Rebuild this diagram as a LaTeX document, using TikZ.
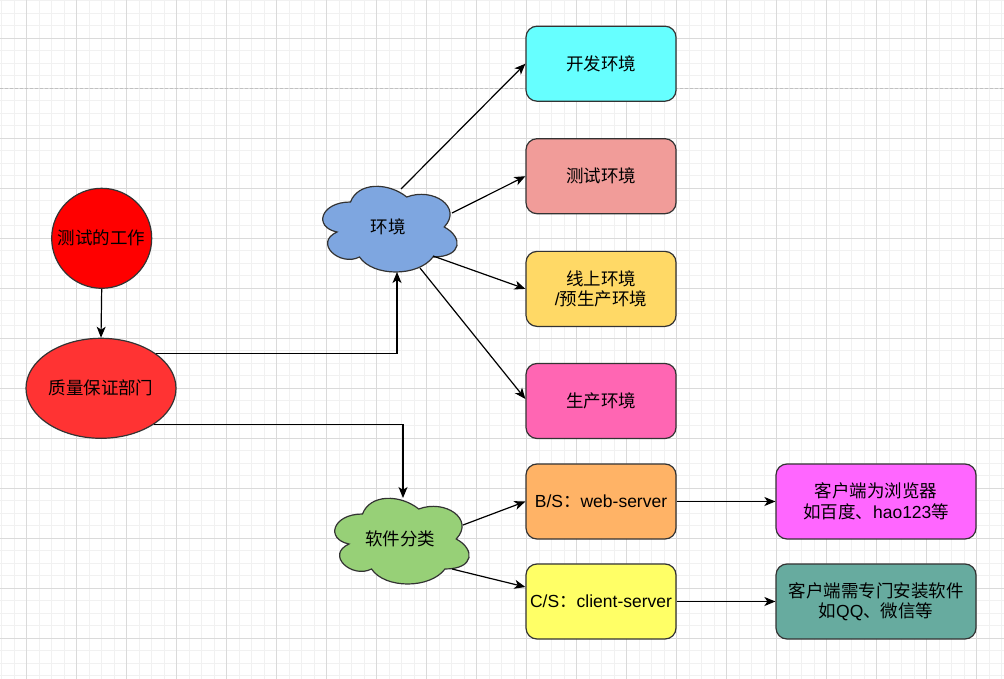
\documentclass[tikz,border=0pt]{standalone}
\usepackage{fontspec}
\setmainfont{Liberation Sans}
\newfontfamily\cjk{Noto Sans CJK SC}
\usetikzlibrary{arrows.meta,shapes.geometric,calc}
\definecolor{strokec}{HTML}{333333}
\definecolor{gridmajor}{HTML}{DADADA}
\definecolor{gridminor}{HTML}{F1F1F1}
\definecolor{pagebreak}{HTML}{C0C0C0}
\definecolor{cdev}{HTML}{66FFFF}
\definecolor{ctest}{HTML}{F19C99}
\definecolor{conline}{HTML}{FFD966}
\definecolor{cprod}{HTML}{FF66B3}
\definecolor{cbs}{HTML}{FFB366}
\definecolor{ccs}{HTML}{FFFF66}
\definecolor{cbrowser}{HTML}{FF66FF}
\definecolor{cinstall}{HTML}{67AB9F}
\definecolor{cwork}{HTML}{FF0000}
\definecolor{cqa}{HTML}{FF3333}
\definecolor{cenv}{HTML}{7EA6E0}
\definecolor{csoft}{HTML}{97D077}
\newcommand{\fsz}{\fontsize{17.5pt}{20.5pt}\selectfont}
% draw.io style cloud, 150 x 100, top-left corner at (#1,#2), fill #3
\newcommand{\drawiocloud}[3]{%
  \begin{scope}[shift={(#1,#2)}]
    \draw[line width=1.2pt, draw=strokec, fill=#3]
      (37.5,25) .. controls (7.5,25) and (0,50) .. (24,55)
      .. controls (0,66) and (27,90) .. (46.5,80)
      .. controls (60,100) and (105,100) .. (120,80)
      .. controls (150,80) and (150,60) .. (131.25,50)
      .. controls (150,30) and (120,10) .. (93.75,20)
      .. controls (75,5) and (45,5) .. (37.5,25) -- cycle;
  \end{scope}}
\tikzset{
  box/.style={draw=strokec, line width=1.2pt, rounded corners=11pt, minimum width=150pt,
    minimum height=75pt, inner sep=0pt, align=center, font=\fsz, fill=#1},
  widebox/.style={box=#1, minimum width=200pt},
  roundnode/.style={draw=strokec, line width=1.2pt, circle, minimum size=100pt, inner sep=0pt,
    font=\fsz, fill=#1},
  ellnode/.style={draw=strokec, line width=1.2pt, ellipse, minimum width=150pt,
    minimum height=100pt, inner sep=0pt, font=\fsz, fill=#1},
  cloudbox/.style={minimum width=150pt, minimum height=100pt, inner sep=0pt, font=\fsz},
  arr/.style={line width=1.2pt, black, -{Stealth[length=11pt, width=9pt, inset=3pt]}},
  minorgrid/.style={gridminor, line width=0.8pt},
  majorgrid/.style={gridmajor, line width=0.8pt}
}
\begin{document}
\begin{tikzpicture}[x=1pt, y=-1pt]
\useasboundingbox (0,0) rectangle (1004,679);
\fill[white] (0,0) rectangle (1004,679);
% grid
\foreach \i in {0,...,80} \draw[minorgrid] ({1.7+12.5*\i},0) -- ({1.7+12.5*\i},679);
\foreach \i in {0,...,54} \draw[minorgrid] (0,{0.8+12.5*\i}) -- (1004,{0.8+12.5*\i});
\foreach \i in {0,...,19} \draw[majorgrid] ({26.7+50*\i},0) -- ({26.7+50*\i},679);
\foreach \i in {0,...,12} \draw[majorgrid] (0,{38.3+50*\i}) -- (1004,{38.3+50*\i});
\draw[pagebreak, line width=1pt, dash pattern=on 3pt off 2pt] (0,88.3) -- (1004,88.3);

% clouds
\drawiocloud{313}{177}{cenv}
\drawiocloud{325}{489}{csoft}

% nodes
\node[roundnode=cwork] (work) at (101.7,238.3) {\cjk 测试的工作};
\node[ellnode=cqa] (qa) at (101,388.3) {\cjk 质量保证部门};
\node[cloudbox] (env) at (388,227) {\cjk 环境};
\node[cloudbox] (soft) at (400,539) {\cjk 软件分类};

\node[box=cdev] (dev) at (601,63.7) {\cjk 开发环境};
\node[box=ctest] (test) at (601,176.2) {\cjk 测试环境};
\node[box=conline] (online) at (601,288.9) {\cjk 线上环境\\/{\cjk 预生产环境}};
\node[box=cprod] (prod) at (601,401) {\cjk 生产环境};
\node[box=cbs] (bs) at (601,501.5) {B/S{\cjk ：}web-server};
\node[box=ccs] (cs) at (601,601.5) {C/S{\cjk ：}client-server};
\node[widebox=cbrowser] (browser) at (876,501.5) {{\cjk 客户端为浏览器}\\{\cjk 如百度、}hao123{\cjk 等}};
\node[widebox=cinstall] (install) at (876,601.5) {{\cjk 客户端需专门安装软件}\\{\cjk 如}QQ{\cjk 、微信等}};

% points on the cloud outlines
\coordinate (envA) at (401,189);
\coordinate (envB) at (452,213);
\coordinate (envC) at (433,256);
\coordinate (envD) at (420,268);
\coordinate (envE) at (397,272);
\coordinate (softF) at (403,498);
\coordinate (softG) at (463,525);
\coordinate (softH) at (452,569);

% connectors
\draw[arr] (work.south) -- (qa.north);
\draw[arr] (qa.32.7) -| (envE);
\draw[arr] (qa.-34.7) -| (softF);
\draw[arr] (envA) -- (dev.west);
\draw[arr] (envB) -- (test.west);
\draw[arr] (envC) -- (online.west);
\draw[arr] (envD) -- ([yshift=2pt]prod.west);
\draw[arr] (softG) -- (bs.west);
\draw[arr] (softH) -- ([yshift=14.5pt]cs.west);
\draw[arr] (bs.east) -- (browser.west);
\draw[arr] (cs.east) -- (install.west);
\end{tikzpicture}
\end{document}
